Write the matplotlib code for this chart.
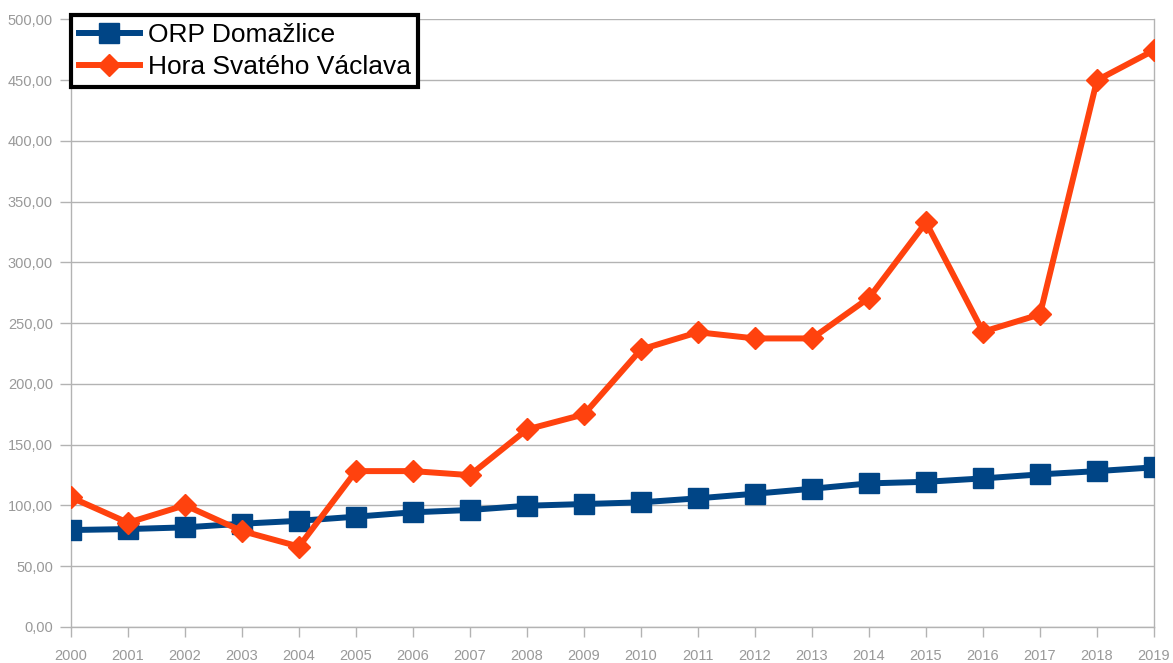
import matplotlib.pyplot as plt
from matplotlib.ticker import FuncFormatter

plt.rcParams['font.family'] = ['Liberation Sans', 'DejaVu Sans']

years = list(range(2000, 2020))
orp_domazlice = [79.8, 80.6, 82.0, 85.0, 87.4, 90.8, 94.4, 96.3, 99.8, 101.2,
                 102.6, 105.9, 109.7, 113.8, 118.2, 119.5, 122.3, 125.6, 128.3, 131.4]
hora_svateho_vaclava = [106.7, 85.8, 100.2, 79.0, 66.2, 128.3, 128.3, 125.0, 162.6, 175.0,
                        228.4, 242.6, 237.5, 237.5, 270.9, 333.0, 243.0, 257.3, 450.0, 474.7]
labels = ['ORP Domažlice', 'Hora Svatého Václava']

grey = '#b3b3b3'
tick_grey = '#999999'

fig = plt.figure(figsize=(11.73, 6.63), dpi=100)
ax = fig.add_axes([0.0605, 0.0543, 0.9233, 0.9163])

ax.plot(years, orp_domazlice, color='#004586', linewidth=4.3, marker='s',
        markersize=14.5, label=labels[0], zorder=3)
ax.plot(years, hora_svateho_vaclava, color='#ff420e', linewidth=4.3, marker='D',
        markersize=11, label=labels[1], zorder=3)

ax.set_xlim(2000, 2019)
ax.set_ylim(0, 500)
ax.set_xticks(years)
ax.set_yticks(range(0, 501, 50))
ax.yaxis.set_major_formatter(FuncFormatter(lambda v, p: f'{v:.2f}'.replace('.', ',')))
ax.grid(axis='y', color=grey, linewidth=1)
ax.set_axisbelow(True)

for s in ['left', 'bottom', 'right']:
    ax.spines[s].set_color(grey)
    ax.spines[s].set_linewidth(1)
ax.spines['top'].set_visible(False)
ax.tick_params(axis='both', colors=grey, labelcolor=tick_grey, labelsize=10.5, width=1)
ax.tick_params(axis='x', length=7, pad=9)
ax.tick_params(axis='y', length=8, pad=5)

leg = ax.legend(loc='upper left', bbox_to_anchor=(71 / 1173, 1 - 15 / 663),
                bbox_transform=fig.transFigure, fontsize=19, frameon=True,
                fancybox=False, edgecolor='black', framealpha=1, borderpad=0.3,
                handlelength=2.3, handletextpad=0.3, labelspacing=0.3,
                borderaxespad=0)
leg.get_frame().set_linewidth(3)
leg.set_zorder(5)

fig.savefig('out.png', dpi=100)
